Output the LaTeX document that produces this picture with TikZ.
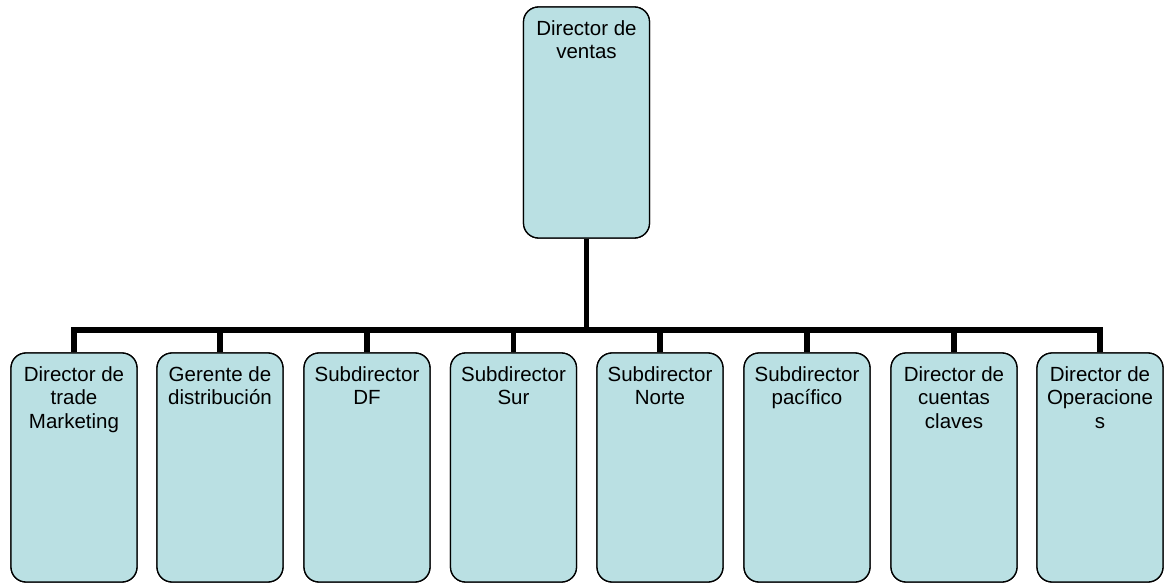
\documentclass[tikz,border=0pt]{standalone}
\usepackage{fontspec}
\setmainfont{Liberation Sans}
\definecolor{boxfill}{RGB}{186,224,227}
\tikzset{
  orgbox/.style={draw=black, line width=1.3pt, fill=boxfill, rounded corners=15pt,
    minimum width=126pt, inner sep=0pt},
  toprole/.style={orgbox, minimum height=231pt},
  subrole/.style={orgbox, minimum height=229pt},
  boxtext/.style={anchor=north, align=center, inner sep=0pt,
    font=\fontsize{20.5pt}{23.5pt}\selectfont},
  link/.style={draw=black, line width=5.5pt, line join=miter}
}
\begin{document}
\begin{tikzpicture}[x=1pt, y=-1pt]
  \useasboundingbox (0,0) rectangle (1168,583);
  \coordinate (bus) at (587,330);

  % head of the chart
  \node[toprole] (top) at (586.5,122.5) {};

  % the eight reports
  \foreach \name/\cx in {b1/74, b2/220, b3/367, b4/513.5, b5/660, b6/807, b7/954, b8/1100}
    \node[subrole] (\name) at (\cx,467.5) {};

  % connectors
  \draw[link] (top.south) -- (top.south |- bus);
  \draw[link, line width=6pt] (b1.north) -- (b1.north |- bus) -- (b8.north |- bus) -- (b8.north);
  \foreach \name in {b2,b3,b4,b5,b6,b7}
    \draw[link] (\name.north |- bus) -- (\name.north);

  % redraw box outlines on top of the connector ends
  \node[toprole] at (top) {};
  \foreach \name in {b1,b2,b3,b4,b5,b6,b7,b8}
    \node[subrole] at (\name) {};

  % labels
  \node[boxtext] (ttop) at ([yshift=-14pt]top.north) {Director de\\ventas};
  \node[boxtext] (t1) at ([yshift=-14pt]b1.north) {Director de\\trade\\Marketing};
  \node[boxtext] (t2) at ([yshift=-14pt]b2.north) {Gerente de\\distribución};
  \node[boxtext] (t3) at ([yshift=-14pt]b3.north) {Subdirector\\DF};
  \node[boxtext] (t4) at ([yshift=-14pt]b4.north) {Subdirector\\Sur};
  \node[boxtext] (t5) at ([yshift=-14pt]b5.north) {Subdirector\\Norte};
  \node[boxtext] (t6) at ([yshift=-14pt]b6.north) {Subdirector\\pacífico};
  \node[boxtext] (t7) at ([yshift=-14pt]b7.north) {Director de\\cuentas\\claves};
  \node[boxtext] (t8) at ([yshift=-14pt]b8.north) {Director de\\Operacione\\s};
\end{tikzpicture}
\end{document}
